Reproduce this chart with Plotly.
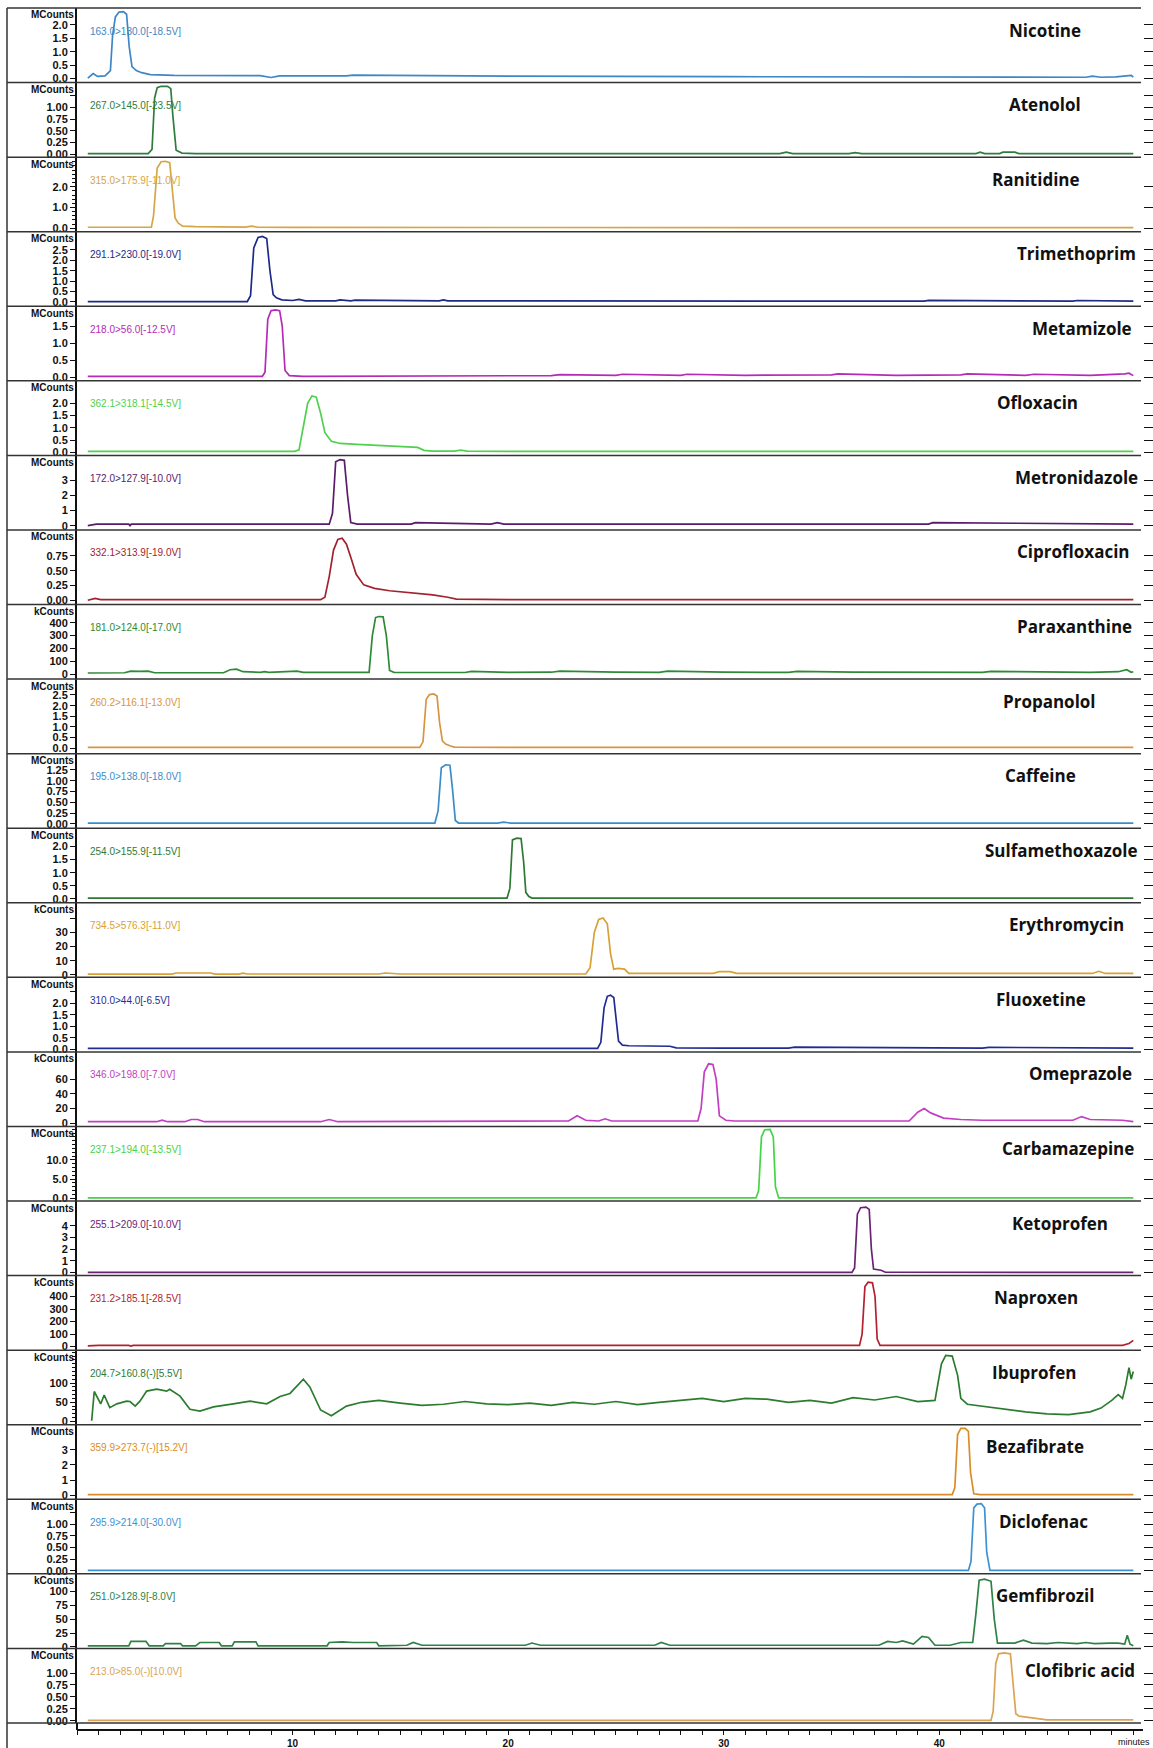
import plotly.graph_objects as go

# ---------------- data ----------------
compounds = ["Nicotine", "Atenolol", "Ranitidine", "Trimethoprim", "Metamizole", "Ofloxacin",
             "Metronidazole", "Ciprofloxacin", "Paraxanthine", "Propanolol", "Caffeine",
             "Sulfamethoxazole", "Erythromycin", "Fluoxetine", "Omeprazole", "Carbamazepine",
             "Ketoprofen", "Naproxen", "Ibuprofen", "Bezafibrate", "Diclofenac", "Gemfibrozil",
             "Clofibric acid"]

transitions = ["163.0>130.0[-18.5V]", "267.0>145.0[-23.5V]", "315.0>175.9[-11.0V]",
               "291.1>230.0[-19.0V]", "218.0>56.0[-12.5V]", "362.1>318.1[-14.5V]",
               "172.0>127.9[-10.0V]", "332.1>313.9[-19.0V]", "181.0>124.0[-17.0V]",
               "260.2>116.1[-13.0V]", "195.0>138.0[-18.0V]", "254.0>155.9[-11.5V]",
               "734.5>576.3[-11.0V]", "310.0>44.0[-6.5V]", "346.0>198.0[-7.0V]",
               "237.1>194.0[-13.5V]", "255.1>209.0[-10.0V]", "231.2>185.1[-28.5V]",
               "204.7>160.8(-)[5.5V]", "359.9>273.7(-)[15.2V]", "295.9>214.0[-30.0V]",
               "251.0>128.9[-8.0V]", "213.0>85.0(-)[10.0V]"]

units = ["MCounts", "MCounts", "MCounts", "MCounts", "MCounts", "MCounts", "MCounts", "MCounts",
         "kCounts", "MCounts", "MCounts", "MCounts", "kCounts", "MCounts", "kCounts", "MCounts",
         "MCounts", "kCounts", "kCounts", "MCounts", "MCounts", "kCounts", "MCounts"]

colors = ["#3f86c4", "#2f7d3c", "#d6a548", "#1d2a86", "#b52bb5", "#4fd04f", "#5b1b6b",
          "#a3222e", "#2f8a36", "#d99440", "#3b8dca", "#2e7a34", "#d9a035", "#1f2d92",
          "#c23ec2", "#45d445", "#6b2275", "#b3212f", "#2c7c30", "#d98d28", "#3d92d4",
          "#2f8245", "#dba455"]

nicotine_t = [0.5, 0.75, 0.95, 1.3, 1.55, 1.65, 1.78, 1.95, 2.15, 2.3, 2.42, 2.55, 2.75, 3.0, 3.4,
              4.5, 8.5, 9.0, 9.4, 12.5, 12.8, 20, 30, 40, 46.8, 47.1, 47.5, 48.2, 48.6, 48.9, 49.0]
nicotine_v = [0.02, 0.19, 0.08, 0.1, 0.3, 1.6, 2.3, 2.48, 2.5, 2.4, 1.2, 0.45, 0.3, 0.22, 0.15,
              0.12, 0.11, 0.04, 0.1, 0.1, 0.13, 0.09, 0.07, 0.05, 0.05, 0.09, 0.05, 0.06, 0.1, 0.12, 0.06]

atenolol_t = [0.5, 3.3, 3.48, 3.6, 3.72, 3.9, 4.2, 4.35, 4.45, 4.6, 4.87, 5.5, 32.6, 32.9, 33.2,
              35.8, 36.1, 36.4, 41.7, 41.9, 42.1, 42.8, 42.95, 43.5, 43.7, 49.0]
atenolol_v = [0.01, 0.01, 0.1, 1.2, 1.42, 1.45, 1.45, 1.4, 0.8, 0.08, 0.02, 0.01, 0.01, 0.04, 0.01,
              0.01, 0.03, 0.01, 0.01, 0.04, 0.01, 0.01, 0.04, 0.04, 0.01, 0.01]

ranitidine_t = [0.5, 3.45, 3.55, 3.72, 3.9, 4.1, 4.3, 4.42, 4.55, 4.7, 4.9, 5.5, 6.5, 7.8, 8.1, 8.4,
                10, 20, 30, 40, 49]
ranitidine_v = [0.05, 0.05, 0.6, 2.9, 3.2, 3.22, 3.15, 2.0, 0.5, 0.25, 0.1, 0.08, 0.07, 0.06, 0.1,
                0.05, 0.04, 0.03, 0.03, 0.03, 0.03]

trimethoprim_t = [0.5, 7.9, 8.05, 8.2, 8.4, 8.6, 8.8, 8.95, 9.1, 9.25, 9.5, 10, 10.3, 10.6, 12.0,
                  12.2, 12.7, 12.9, 16.8, 17.0, 17.2, 20.2, 20.5, 21.0, 39.3, 39.5, 46.2, 46.4, 49.0]
trimethoprim_v = [0.02, 0.02, 0.3, 2.6, 3.1, 3.15, 3.05, 1.5, 0.35, 0.2, 0.1, 0.07, 0.12, 0.05, 0.05,
                  0.1, 0.05, 0.09, 0.05, 0.1, 0.05, 0.05, 0.08, 0.05, 0.04, 0.08, 0.04, 0.07, 0.04]

metamizole_t = [0.5, 8.6, 8.72, 8.85, 9.0, 9.2, 9.4, 9.52, 9.65, 9.85, 10.5, 20, 22, 22.4, 25, 25.3,
                28, 28.3, 31, 35, 35.3, 38, 41, 41.3, 44, 44.4, 47, 48.6, 48.8, 49.0]
metamizole_v = [0.03, 0.03, 0.15, 1.7, 1.95, 1.97, 1.95, 1.5, 0.2, 0.05, 0.03, 0.03, 0.05, 0.08,
                0.06, 0.09, 0.06, 0.09, 0.06, 0.07, 0.1, 0.06, 0.07, 0.1, 0.06, 0.09, 0.06, 0.1, 0.12, 0.05]

ofloxacin_t = [0.5, 10.1, 10.3, 10.5, 10.7, 10.9, 11.1, 11.3, 11.5, 11.8, 12.2, 13.0, 14.0, 15.0,
               15.8, 16.1, 16.5, 17.5, 17.8, 18.1, 20, 30, 40, 49]
ofloxacin_v = [0.04, 0.04, 0.1, 1.0, 2.0, 2.3, 2.25, 1.6, 0.8, 0.45, 0.36, 0.32, 0.28, 0.25, 0.2,
               0.08, 0.05, 0.05, 0.09, 0.05, 0.04, 0.04, 0.04, 0.04]

metronidazole_t = [0.5, 0.9, 2.4, 2.46, 2.52, 11.7, 11.85, 12.0, 12.2, 12.4, 12.55, 12.7, 13.0,
                   15.5, 15.7, 19.2, 19.5, 19.8, 39.5, 39.7, 49]
metronidazole_v = [0.0, 0.1, 0.1, 0.0, 0.1, 0.1, 0.8, 4.2, 4.35, 4.3, 2.0, 0.2, 0.1, 0.1, 0.2,
                   0.1, 0.2, 0.1, 0.1, 0.2, 0.1]

ciprofloxacin_t = [0.5, 0.84, 1.1, 11.3, 11.5, 11.7, 11.9, 12.1, 12.3, 12.5, 12.7, 12.95, 13.3,
                   13.8, 14.5, 15.5, 16.5, 17.2, 17.6, 20, 30, 40, 49]
ciprofloxacin_v = [0.0, 0.03, 0.01, 0.01, 0.05, 0.4, 0.85, 1.03, 1.05, 0.95, 0.73, 0.44, 0.26, 0.2,
                   0.16, 0.13, 0.09, 0.05, 0.02, 0.01, 0.01, 0.01, 0.01]

paraxanthine_t = [0.5, 2.2, 2.5, 2.9, 3.3, 3.6, 6.8, 7.1, 7.4, 7.7, 8.5, 8.7, 8.9, 10.2, 10.5,
                  13.55, 13.7, 13.85, 14.0, 14.2, 14.35, 14.5, 14.7, 16, 18, 18.3, 20, 22, 22.4, 25,
                  27, 27.4, 30, 33, 33.4, 36, 40, 42, 42.4, 45, 47, 48.3, 48.7, 48.9, 49.0]
paraxanthine_v = [10, 12, 25, 22, 25, 12, 12, 35, 40, 20, 15, 20, 15, 25, 15,
                  15, 300, 440, 448, 445, 300, 30, 15, 15, 14, 22, 15, 16, 24, 16,
                  15, 24, 16, 15, 22, 16, 15, 15, 22, 15, 15, 20, 35, 15, 20]

propanolol_t = [0.5, 15.9, 16.05, 16.2, 16.35, 16.55, 16.7, 16.82, 16.95, 17.1, 17.3, 17.5, 20, 30, 40, 49]
propanolol_v = [0.04, 0.04, 0.3, 2.3, 2.52, 2.55, 2.45, 1.2, 0.35, 0.2, 0.12, 0.05, 0.04, 0.04, 0.04, 0.04]

caffeine_t = [0.5, 16.6, 16.75, 16.9, 17.1, 17.3, 17.42, 17.55, 17.7, 19.5, 19.8, 20.1, 49]
caffeine_v = [0.02, 0.02, 0.3, 1.3, 1.37, 1.36, 0.8, 0.08, 0.02, 0.02, 0.04, 0.02, 0.02]

sulfamethoxazole_t = [0.5, 19.95, 20.08, 20.2, 20.4, 20.6, 20.72, 20.82, 20.95, 21.1, 49]
sulfamethoxazole_v = [0.03, 0.03, 0.4, 2.25, 2.32, 2.3, 1.4, 0.25, 0.1, 0.03, 0.03]

erythromycin_t = [0.5, 4.4, 4.6, 6.2, 6.4, 7.5, 7.7, 7.9, 9.0, 14.0, 14.3, 15, 23.6, 23.8, 24.0,
                  24.2, 24.4, 24.6, 24.75, 24.9, 25.1, 25.4, 25.6, 29.5, 29.8, 30.3, 30.6, 40, 47.1,
                  47.4, 47.7, 49]
erythromycin_v = [0.5, 0.5, 1.3, 1.3, 0.5, 0.5, 1.2, 0.6, 0.6, 0.6, 1.3, 0.6, 0.6, 5, 30,
                  39, 40, 36, 15, 4, 4.5, 4, 1, 1, 2.2, 2.2, 1, 1, 1, 2.5, 1, 1]

fluoxetine_t = [0.5, 24.15, 24.3, 24.45, 24.6, 24.75, 24.9, 25.0, 25.12, 25.3, 25.6, 27.5, 27.8, 30,
                33, 33.3, 40, 42, 42.3, 49]
fluoxetine_v = [0.04, 0.04, 0.3, 1.8, 2.3, 2.35, 2.25, 1.4, 0.35, 0.18, 0.15, 0.13, 0.06, 0.05,
                0.05, 0.09, 0.05, 0.05, 0.08, 0.05]

omeprazole_t = [0.5, 1.5, 3.7, 3.95, 4.2, 5.0, 5.3, 5.6, 5.9, 11.3, 11.7, 12.1, 22.8, 23.2, 23.6,
                24.2, 24.5, 24.8, 28.8, 28.95, 29.1, 29.3, 29.5, 29.65, 29.8, 30.1, 30.5, 38.6, 39.0,
                39.3, 39.6, 40.2, 41, 42, 46.2, 46.6, 47.0, 48.5, 49]
omeprazole_v = [2, 2, 2, 4, 2, 2, 5, 5, 2, 2, 5, 2, 3, 10, 4,
                3, 6, 3, 3, 20, 70, 81, 80, 60, 10, 4, 3, 3, 15,
                20, 14, 7, 5, 4, 4, 9, 5, 4, 2]

carbamazepine_t = [0.5, 31.5, 31.62, 31.75, 31.9, 32.15, 32.3, 32.4, 32.55, 49]
carbamazepine_v = [0.1, 0.1, 2, 16, 17.9, 18, 16, 3, 0.1, 0.1]

ketoprofen_t = [0.5, 35.95, 36.07, 36.2, 36.35, 36.6, 36.75, 36.85, 36.95, 37.3, 37.5, 49]
ketoprofen_v = [0.02, 0.02, 0.4, 5.0, 5.55, 5.6, 5.4, 2.0, 0.3, 0.2, 0.03, 0.02]

naproxen_t = [0.5, 1.0, 2.4, 2.5, 2.6, 7.2, 7.4, 7.6, 8.0, 8.2, 8.4, 20, 25, 36.3, 36.42, 36.55,
              36.7, 36.9, 37.02, 37.12, 37.25, 45, 48.5, 48.8, 49.0]
naproxen_v = [5, 10, 10, 4, 10, 10, 4, 10, 4, 10, 10, 10, 10, 10, 100, 480,
              515, 510, 400, 60, 10, 10, 10, 25, 50]

ibuprofen_t = [0.68, 0.8, 1.1, 1.26, 1.52, 1.85, 2.3, 2.46, 2.7, 2.92, 3.23, 3.7, 4.16, 4.3, 4.78,
               5.24, 5.7, 6.33, 7.25, 8.03, 8.8, 9.42, 9.88, 10.27, 10.5, 10.8, 11.3, 11.8, 12.5,
               13.2, 14.0, 15.0, 16.0, 17.0, 18.0, 19.0, 20.0, 21.0, 22.0, 23.0, 24.0, 25.0, 26.0,
               27.0, 28.0, 29.0, 30.0, 31.0, 32.0, 33.0, 34.0, 35.0, 36.0, 37.0, 38.0, 39.0, 39.8,
               40.1, 40.3, 40.6, 40.85, 41.0, 41.3, 42.0, 43.0, 44.0, 45.0, 46.0, 47.0, 47.5, 48.0,
               48.3, 48.5, 48.65, 48.8, 48.9, 49.0]
ibuprofen_v = [2, 78, 46, 69, 36, 46, 53, 52, 40, 53, 79, 84, 79, 84, 66,
               32, 27, 38, 46, 53, 46, 65, 73, 95, 110, 90, 30, 15, 40,
               50, 55, 48, 42, 45, 52, 46, 44, 48, 42, 50, 45, 52, 44,
               50, 55, 60, 52, 60, 58, 50, 55, 48, 62, 56, 65, 52, 55,
               150, 172, 170, 120, 60, 45, 40, 32, 25, 20, 18, 25, 35, 55,
               70, 60, 95, 140, 110, 130]

bezafibrate_t = [0.5, 40.6, 40.72, 40.85, 41.0, 41.2, 41.35, 41.45, 41.6, 41.9, 49]
bezafibrate_v = [0.05, 0.05, 0.5, 4.0, 4.4, 4.4, 4.2, 1.5, 0.1, 0.05, 0.05]

diclofenac_t = [0.5, 41.35, 41.47, 41.6, 41.75, 41.95, 42.1, 42.2, 42.35, 49]
diclofenac_v = [0.01, 0.01, 0.2, 1.35, 1.43, 1.44, 1.35, 0.4, 0.01, 0.01]

gemfibrozil_t = [0.5, 2.4, 2.5, 3.2, 3.35, 4.0, 4.1, 4.8, 4.9, 5.5, 5.7, 6.6, 6.7, 7.2, 7.3, 7.8,
                 8.3, 8.4, 11.6, 11.7, 12.3, 12.8, 13.9, 14.0, 15.3, 15.6, 16.0, 20.8, 21.1, 21.5,
                 26.8, 27.1, 27.5, 30, 37.2, 37.6, 38.0, 38.3, 38.8, 39.2, 39.5, 39.8, 40.5, 41.0,
                 41.55, 41.7, 41.85, 42.1, 42.4, 42.55, 42.7, 43.5, 43.9, 44.3, 45.0, 45.5, 46.4,
                 46.8, 47.2, 47.9, 48.3, 48.6, 48.72, 48.85, 49.0]
gemfibrozil_v = [2, 2, 10, 10, 2, 2, 6, 6, 2, 2, 8, 8, 2, 2, 9, 9,
                 9, 2, 2, 8, 9, 8, 8, 2, 3, 8, 3, 3, 7, 3,
                 3, 8, 3, 3, 3, 10, 8, 11, 5, 19, 17, 3, 3, 8,
                 8, 60, 120, 122, 118, 50, 7, 7, 12, 7, 6, 8, 6,
                 8, 6, 7, 7, 5, 21, 5, 2]

clofibric_t = [0.5, 42.4, 42.5, 42.62, 42.75, 43.0, 43.3, 43.42, 43.55, 43.7, 44.7, 45.0, 49.0]
clofibric_v = [0.01, 0.01, 0.2, 1.2, 1.4, 1.42, 1.4, 0.8, 0.15, 0.1, 0.05, 0.02, 0.02]

series_t = [nicotine_t, atenolol_t, ranitidine_t, trimethoprim_t, metamizole_t, ofloxacin_t,
            metronidazole_t, ciprofloxacin_t, paraxanthine_t, propanolol_t, caffeine_t,
            sulfamethoxazole_t, erythromycin_t, fluoxetine_t, omeprazole_t, carbamazepine_t,
            ketoprofen_t, naproxen_t, ibuprofen_t, bezafibrate_t, diclofenac_t, gemfibrozil_t,
            clofibric_t]
series_v = [nicotine_v, atenolol_v, ranitidine_v, trimethoprim_v, metamizole_v, ofloxacin_v,
            metronidazole_v, ciprofloxacin_v, paraxanthine_v, propanolol_v, caffeine_v,
            sulfamethoxazole_v, erythromycin_v, fluoxetine_v, omeprazole_v, carbamazepine_v,
            ketoprofen_v, naproxen_v, ibuprofen_v, bezafibrate_v, diclofenac_v, gemfibrozil_v,
            clofibric_v]

# y tick values / labels of each panel
ytick_vals = [
    [0, 0.5, 1, 1.5, 2], [0, 0.25, 0.5, 0.75, 1, 1.25], [0, 1, 2], [0, 0.5, 1, 1.5, 2, 2.5],
    [0, 0.5, 1, 1.5], [0, 0.5, 1, 1.5, 2], [0, 1, 2, 3], [0, 0.25, 0.5, 0.75],
    [0, 100, 200, 300, 400], [0, 0.5, 1, 1.5, 2, 2.5], [0, 0.25, 0.5, 0.75, 1, 1.25],
    [0, 0.5, 1, 1.5, 2], [0, 10, 20, 30, 40], [0, 0.5, 1, 1.5, 2, 2.5], [0, 20, 40, 60],
    [0, 5, 10], [0, 1, 2, 3, 4], [0, 100, 200, 300, 400], [0, 50, 100], [0, 1, 2, 3],
    [0, 0.25, 0.5, 0.75, 1, 1.25], [0, 25, 50, 75, 100], [0, 0.25, 0.5, 0.75, 1]]
ytick_text = [
    ["0.0", "0.5", "1.0", "1.5", "2.0"], ["0.00", "0.25", "0.50", "0.75", "1.00", ""],
    ["0.0", "1.0", "2.0"], ["0.0", "0.5", "1.0", "1.5", "2.0", "2.5"],
    ["0.0", "0.5", "1.0", "1.5"], ["0.0", "0.5", "1.0", "1.5", "2.0"], ["0", "1", "2", "3"],
    ["0.00", "0.25", "0.50", "0.75"], ["0", "100", "200", "300", "400"],
    ["0.0", "0.5", "1.0", "1.5", "2.0", "2.5"], ["0.00", "0.25", "0.50", "0.75", "1.00", "1.25"],
    ["0.0", "0.5", "1.0", "1.5", "2.0"], ["0", "10", "20", "30", ""],
    ["0.0", "0.5", "1.0", "1.5", "2.0", ""], ["0", "20", "40", "60"], ["0.0", "5.0", "10.0"],
    ["0", "1", "2", "3", "4"], ["0", "100", "200", "300", "400"], ["0", "50", "100"],
    ["0", "1", "2", "3"], ["0.00", "0.25", "0.50", "0.75", "1.00", ""],
    ["0", "25", "50", "75", "100"], ["0.00", "0.25", "0.50", "0.75", "1.00"]]
yminor_step = {2: 0.2, 15: 1.0, 18: 10}

# axis ranges of each panel
y_ranges = [(-0.149, 2.633), (-0.066, 1.530), (-0.163, 3.42), (-0.207, 3.378), (-0.102, 2.078),
            (-0.127, 2.917), (-0.283, 4.623), (-0.073, 1.191), (-37.2, 540.9), (-0.254, 3.247),
            (-0.1, 1.627), (-0.149, 2.697), (-1.76, 50.75), (-0.117, 3.125), (-4.5, 97.2),
            (-0.73, 18.74), (-0.256, 6.117), (-28.8, 567.8), (-8.3, 185.4), (-0.263, 4.643),
            (-0.064, 1.533), (-2.7, 131.4), (-0.044, 1.513)]

x_ticks = [10, 20, 30, 40]

# label placement (page pixels, right edge of compound name)
name_right = [1083, 1083, 1082, 1138, 1134, 1080, 1140, 1132, 1134, 1098, 1078, 1140, 1126, 1088,
              1134, 1136, 1110, 1080, 1078, 1086, 1090, 1096, 1137]

# ---------------- layout helpers ----------------
W, H = 1153, 1748
ML, MR, MT, MB = 77, 10, 8, 18
PW = W - ML - MR
PH = H - MT - MB
N = len(compounds)
TOP, BOT = 8, 1723
ph = (BOT - TOP) / N


def fy(px):
    return (H - MB - px) / PH


def fx(px):
    return (px - ML) / PW


NARROW = "Liberation Sans Narrow, Arial Narrow, Liberation Sans"
TICKFONT = dict(family=NARROW, size=11, color="#111", weight="bold")

fig = go.Figure()
layout = dict(width=W, height=H, margin=dict(l=ML, r=MR, t=MT, b=MB, pad=0, autoexpand=False),
              paper_bgcolor="white", plot_bgcolor="white", showlegend=False)

layout["xaxis"] = dict(domain=[0, 1], range=[0, 49.45], anchor="free", position=0,
                       showline=True, linecolor="#111", linewidth=1.5, ticks="outside",
                       ticklen=4, tickwidth=1, tickcolor="#111", tickvals=x_ticks,
                       ticktext=[str(v) for v in x_ticks],
                       tickfont=dict(family=NARROW, size=10, color="#111", weight="bold"),
                       automargin=False,
                       minor=dict(dtick=1, tick0=0, ticks="outside", ticklen=4, tickcolor="#111"),
                       showgrid=False, zeroline=False, fixedrange=True)

shapes = []
annotations = []

for i in range(N):
    top = TOP + i * ph
    bot = top + ph
    yname = "y" if i == 0 else f"y{i + 1}"
    ykey = "yaxis" if i == 0 else f"yaxis{i + 1}"
    rname = f"y{i + 1 + N}"
    rkey = f"yaxis{i + 1 + N}"
    dom = [fy(bot), fy(top)]
    ax = dict(domain=dom, range=list(y_ranges[i]), anchor="x", showline=True, linecolor="#111",
              linewidth=2, ticks="outside", ticklen=5, tickwidth=1.3, tickcolor="#111",
              tickmode="array", tickvals=ytick_vals[i], ticktext=ytick_text[i], automargin=False,
              tickfont=TICKFONT, showgrid=False, zeroline=False, fixedrange=True)
    if i in yminor_step:
        ax["minor"] = dict(dtick=yminor_step[i], tick0=0, ticks="outside", ticklen=3,
                           tickcolor="#111")
    layout[ykey] = ax
    layout[rkey] = dict(overlaying=yname, side="right", range=list(y_ranges[i]), anchor="x",
                        showline=False, ticks="outside", ticklen=10, tickwidth=1.3,
                        tickcolor="#111", tickmode="array", tickvals=ytick_vals[i],
                        showticklabels=False, showgrid=False, zeroline=False, fixedrange=True,
                        automargin=False)

    # invisible copy on the right-hand axis so its tick marks are drawn
    fig.add_trace(go.Scatter(x=series_t[i], y=series_v[i], mode="lines", opacity=0,
                             line=dict(color=colors[i], width=0.1), xaxis="x", yaxis=rname,
                             hoverinfo="skip"))
    fig.add_trace(go.Scatter(x=series_t[i], y=series_v[i], mode="lines",
                             line=dict(color=colors[i], width=1.7), xaxis="x", yaxis=yname,
                             hoverinfo="skip"))

    shapes.append(dict(type="line", xref="paper", yref="paper", x0=fx(7), x1=fx(1141),
                       y0=fy(top), y1=fy(top), line=dict(color="#333", width=1.5)))

    annotations.append(dict(x=fx(76), y=fy(top + 7), xref="paper", yref="paper",
                            text=units[i], showarrow=False, xanchor="right", yanchor="middle",
                            font=dict(family=NARROW, size=10, color="#111", weight="bold")))
    annotations.append(dict(x=fx(88), y=fy(top + 23), xref="paper", yref="paper",
                            text=transitions[i], showarrow=False, xanchor="left", yanchor="middle",
                            font=dict(family=NARROW, size=10, color=colors[i])))
    annotations.append(dict(x=fx(name_right[i]), y=fy(top + 22), xref="paper", yref="paper",
                            text=compounds[i], showarrow=False, xanchor="right", yanchor="middle",
                            font=dict(family="Open Sans, Lato, sans-serif", size=17,
                                      color="#111", weight="bold")))

shapes.append(dict(type="line", xref="paper", yref="paper", x0=fx(7), x1=fx(1141),
                   y0=fy(BOT), y1=fy(BOT), line=dict(color="#333", width=1.5)))
shapes.append(dict(type="line", xref="paper", yref="paper", x0=fx(7), x1=fx(7),
                   y0=fy(TOP), y1=fy(H), line=dict(color="#333", width=1.5)))
shapes.append(dict(type="line", xref="paper", yref="paper", x0=0, x1=0,
                   y0=fy(BOT), y1=0, line=dict(color="#111", width=2)))

annotations.append(dict(x=fx(1152), y=fy(1742), xref="paper", yref="paper", text="minutes",
                        showarrow=False, xanchor="right", yanchor="middle",
                        font=dict(family=NARROW, size=9, color="#111")))

layout["shapes"] = shapes
layout["annotations"] = annotations
fig.update_layout(**layout)
fig.write_html("out.html")
